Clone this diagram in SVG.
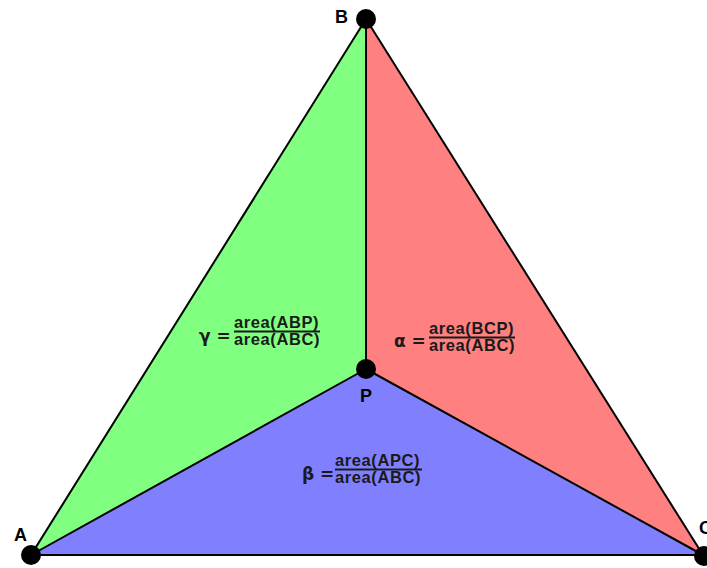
<svg xmlns="http://www.w3.org/2000/svg" width="707" height="568" viewBox="0 0 707 568">
<style>
.edge{stroke:#000;stroke-width:2;fill:none;stroke-linejoin:round}
.lbl{font-family:"Liberation Sans",Arial,sans-serif;font-weight:bold;font-size:18px;fill:#000}
.frac{font-family:"Liberation Sans",Arial,sans-serif;font-weight:bold;font-size:16.5px;fill:#1a1a1a;letter-spacing:0.6px}
.sym{font-family:"DejaVu Sans",sans-serif;font-weight:bold;font-size:17px;fill:#1a1a1a}
.bar{stroke:#1a1a1a;stroke-width:2}
.dot{fill:#000}
</style>
<rect width="707" height="568" fill="#fff"/>
<g id="regions">
<polygon points="31,555 366,19 366,369" fill="#80ff80"/>
<polygon points="366,19 703,555 366,369" fill="#ff8080"/>
<polygon points="31,555 366,369 703,555" fill="#8080ff"/>
</g>
<g id="connectors">
<line class="edge" x1="31" y1="555" x2="366" y2="19"/>
<line class="edge" x1="366" y1="19" x2="703" y2="555"/>
<line class="edge" x1="31" y1="555" x2="703" y2="555"/>
<line class="edge" x1="366" y1="19" x2="366" y2="369"/>
<line class="edge" x1="31" y1="555" x2="366" y2="369"/>
<line class="edge" x1="703" y1="555" x2="366" y2="369"/>
</g>
<g id="A"><circle class="dot" cx="31" cy="555" r="10"/><text class="lbl" x="14" y="541">A</text></g>
<g id="B"><circle class="dot" cx="366" cy="19" r="10"/><text class="lbl" x="335" y="23">B</text></g>
<g id="C"><circle class="dot" cx="704" cy="556" r="10"/><text class="lbl" x="699" y="534">C</text></g>
<g id="P"><circle class="dot" cx="366" cy="369" r="10"/><text class="lbl" x="360" y="402">P</text></g>
<g id="gamma">
<text class="sym" x="199" y="342">γ =</text>
<text class="frac" x="234" y="328">area(ABP)</text>
<line class="bar" x1="234" y1="331.5" x2="320" y2="331.5"/>
<text class="frac" x="234" y="345">area(ABC)</text>
</g>
<g id="alpha">
<text class="sym" x="394" y="347">α =</text>
<text class="frac" x="429" y="334">area(BCP)</text>
<line class="bar" x1="429" y1="337.5" x2="515" y2="337.5"/>
<text class="frac" x="429" y="351">area(ABC)</text>
</g>
<g id="beta">
<text class="sym" x="302" y="480">β =</text>
<text class="frac" x="335" y="466">area(APC)</text>
<line class="bar" x1="335" y1="469.5" x2="422" y2="469.5"/>
<text class="frac" x="335" y="483">area(ABC)</text>
</g>
</svg>
